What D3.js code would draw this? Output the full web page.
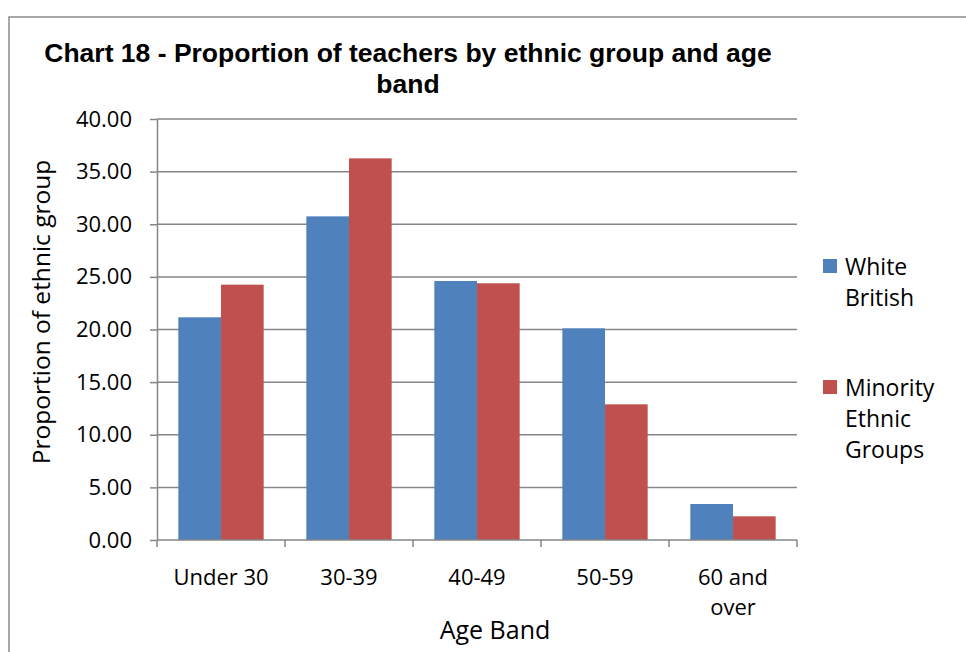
<!DOCTYPE html>
<html>
<head>
<meta charset="utf-8">
<script src="https://cdn.jsdelivr.net/npm/d3@7"></script>
<style>
  html, body { margin: 0; padding: 0; background: #fff; }
  svg { display: block; }
</style>
</head>
<body>
<div id="chart"></div>
<script>
// chart data
const categories = ['Under 30', '30-39', '40-49', '50-59', '60 and over'];
const categoryLines = [['Under 30'], ['30-39'], ['40-49'], ['50-59'], ['60 and', 'over']];
const seriesNames = ['White British', 'Minority Ethnic Groups'];
const legendLines = [['White', 'British'], ['Minority', 'Ethnic', 'Groups']];
const whiteBritish = [21.16, 30.75, 24.61, 20.11, 3.42];
const minorityEthnic = [24.26, 36.26, 24.39, 12.89, 2.25];
const yTicks = [0, 5, 10, 15, 20, 25, 30, 35, 40];
const titleLines = ['Chart 18 - Proportion of teachers by ethnic group and age', 'band'];

const width = 966;
const height = 652;
const colors = ['#4F81BD', '#C0504D'];
const gridColor = '#868686';
const font = '"Open Sans", sans-serif';

const plot = { left: 157, right: 797, top: 119, bottom: 540 };

const svg = d3.select('#chart')
    .append('svg')
    .attr('width', width)
    .attr('height', height);

// outer chart border (runs off the right and bottom edges)
svg.append('rect')
    .attr('x', 9)
    .attr('y', 17)
    .attr('width', width + 20)
    .attr('height', height + 20)
    .attr('fill', '#fff')
    .attr('stroke', '#8c8c8c')
    .attr('stroke-width', 1.5);

const x0 = d3.scaleBand()
    .domain(categories)
    .range([plot.left, plot.right])
    .paddingInner(0)
    .paddingOuter(0);

const x1 = d3.scaleBand()
    .domain([0, 1])
    .range([0, x0.bandwidth()])
    .paddingInner(0)
    .paddingOuter(0.5);

const y = d3.scaleLinear()
    .domain([0, 40])
    .range([plot.bottom, plot.top]);

// gridlines
svg.append('g')
    .selectAll('line')
    .data(yTicks.filter(d => d > 0))
    .enter()
    .append('line')
    .attr('x1', plot.left)
    .attr('x2', plot.right)
    .attr('y1', d => y(d))
    .attr('y2', d => y(d))
    .attr('stroke', gridColor)
    .attr('stroke-width', 1.5);

// bars
const series = [whiteBritish, minorityEthnic];
series.forEach(function(values, s) {
    svg.append('g')
        .selectAll('rect')
        .data(values)
        .enter()
        .append('rect')
        .attr('x', (d, i) => x0(categories[i]) + x1(s))
        .attr('width', x1.bandwidth())
        .attr('y', d => y(d))
        .attr('height', d => y(0) - y(d))
        .attr('fill', colors[s]);
});

// y axis
const yAxis = svg.append('g')
    .attr('transform', `translate(${plot.left},0)`)
    .call(d3.axisLeft(y)
        .tickValues(yTicks)
        .tickFormat(d3.format('.2f'))
        .tickSize(7)
        .tickSizeOuter(0)
        .tickPadding(18));
yAxis.select('.domain').attr('stroke', gridColor).attr('stroke-width', 1.5);
yAxis.selectAll('.tick line').attr('stroke', gridColor).attr('stroke-width', 1.5);
yAxis.selectAll('.tick text')
    .attr('font-family', font)
    .attr('font-size', 22)
    .attr('fill', '#000');

// x axis: line plus ticks on the band boundaries
const boundaries = categories.map(c => x0(c)).concat([plot.right]);
const xAxis = svg.append('g');
xAxis.append('line')
    .attr('x1', plot.left)
    .attr('x2', plot.right)
    .attr('y1', plot.bottom)
    .attr('y2', plot.bottom)
    .attr('stroke', gridColor)
    .attr('stroke-width', 1.5);
xAxis.selectAll('line.tick')
    .data(boundaries)
    .enter()
    .append('line')
    .attr('class', 'tick')
    .attr('x1', d => d)
    .attr('x2', d => d)
    .attr('y1', plot.bottom)
    .attr('y2', plot.bottom + 7)
    .attr('stroke', gridColor)
    .attr('stroke-width', 1.5);

const xLabels = xAxis.selectAll('text')
    .data(categories)
    .enter()
    .append('text')
    .attr('x', d => x0(d) + x0.bandwidth() / 2)
    .attr('y', 585)
    .attr('text-anchor', 'middle')
    .attr('font-family', font)
    .attr('font-size', 22)
    .attr('fill', '#000');
xLabels.each(function(d, i) {
    const el = d3.select(this);
    categoryLines[i].forEach(function(line, j) {
        el.append('tspan')
            .attr('x', x0(d) + x0.bandwidth() / 2)
            .attr('dy', j === 0 ? 0 : 30)
            .text(line);
    });
});

// axis titles
svg.append('text')
    .attr('x', 495)
    .attr('y', 639)
    .attr('text-anchor', 'middle')
    .attr('font-family', font)
    .attr('font-size', 25)
    .attr('fill', '#000')
    .text('Age Band');

svg.append('text')
    .attr('transform', `translate(50,312) rotate(-90)`)
    .attr('text-anchor', 'middle')
    .attr('font-family', font)
    .attr('font-size', 24.5)
    .attr('fill', '#000')
    .text('Proportion of ethnic group');

// title
const title = svg.append('text')
    .attr('text-anchor', 'middle')
    .attr('font-family', '"Liberation Sans", Arial, sans-serif')
    .attr('font-weight', 'bold')
    .attr('font-size', 26.5)
    .attr('fill', '#000');
titleLines.forEach(function(line, j) {
    title.append('tspan')
        .attr('x', 408)
        .attr('y', 62 + j * 31)
        .text(line);
});

// legend
const legendTop = [259, 380];
const legend = svg.append('g');
seriesNames.forEach(function(name, s) {
    legend.append('rect')
        .attr('x', 823)
        .attr('y', legendTop[s])
        .attr('width', 14)
        .attr('height', 14)
        .attr('fill', colors[s]);
    const t = legend.append('text')
        .attr('font-family', font)
        .attr('font-size', 23)
        .attr('fill', '#000');
    legendLines[s].forEach(function(line, j) {
        t.append('tspan')
            .attr('x', 845)
            .attr('y', legendTop[s] + 16 + j * 31)
            .text(line);
    });
});
</script>
</body>
</html>
